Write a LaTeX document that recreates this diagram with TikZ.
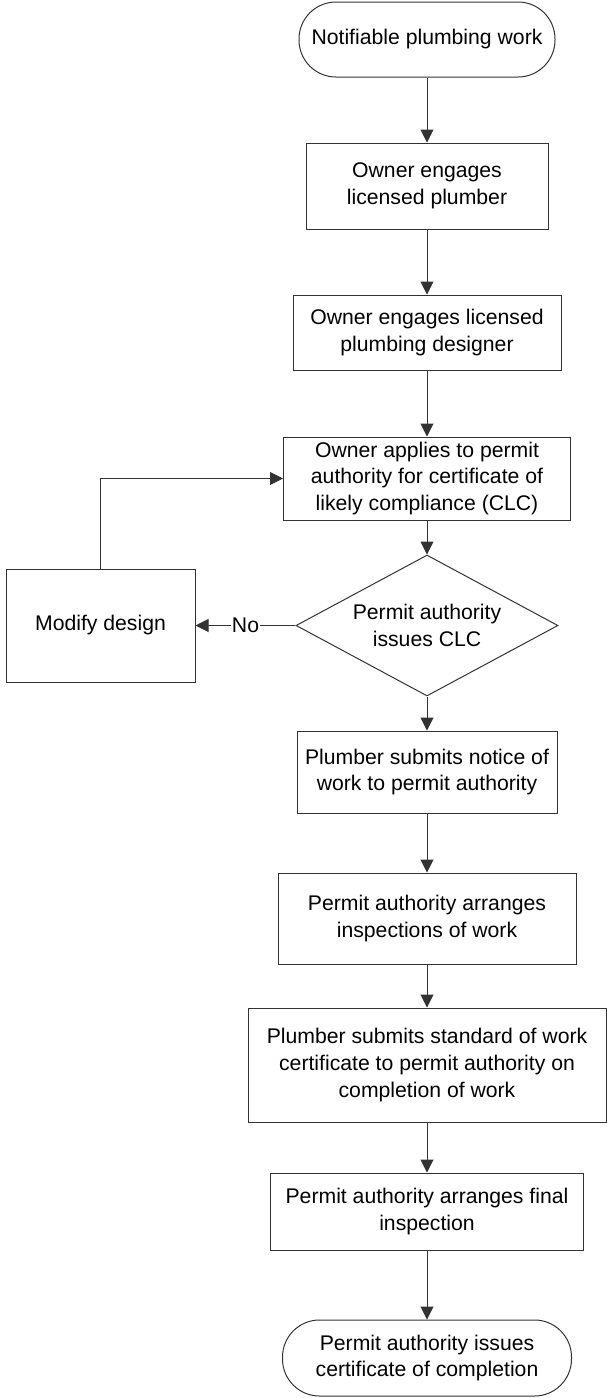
\documentclass[tikz,border=0pt]{standalone}
\usepackage{fontspec}
\setmainfont{Liberation Sans}
\usetikzlibrary{arrows.meta,shapes.geometric}
\begin{document}
\begin{tikzpicture}[x=1pt,y=-1pt,
  every node/.style={font=\fontsize{21.2}{26.7}\selectfont, align=center, text=black},
  procbox/.style={draw=black!80, line width=1pt, rectangle, inner sep=0pt},
  termbox/.style={draw=black!80, line width=1pt, rectangle, rounded corners=37pt, inner sep=0pt},
  decbox/.style={draw=black!80, line width=1pt, diamond, aspect=1.86, inner sep=0pt},
  flow/.style={draw=black!80, line width=1pt, -{Triangle[length=13pt,width=13pt]}}
]
\useasboundingbox (0,0) rectangle (607,1398);
\node[termbox, minimum width=256pt, minimum height=75pt] (t1) at (427,39.5) {Notifiable plumbing work};
\node[procbox, minimum width=242pt, minimum height=86pt] (b2) at (427,186) {Owner engages\\licensed plumber};
\node[procbox, minimum width=268pt, minimum height=75pt] (b3) at (427,332.5) {Owner engages licensed\\plumbing designer};
\node[procbox, minimum width=287pt, minimum height=83pt] (b4) at (427,478.5) {Owner applies to permit\\authority for certificate of\\likely compliance (CLC)};
\node[decbox, minimum width=262pt, minimum height=141pt] (d) at (427,625.5) {Permit authority\\issues CLC};
\node[procbox, minimum width=189pt, minimum height=113pt] (m) at (100.5,625.5) {Modify design};
\node[procbox, minimum width=260pt, minimum height=82pt] (b7) at (427,772) {Plumber submits notice of\\work to permit authority};
\node[procbox, minimum width=298pt, minimum height=91pt] (b8) at (427,918.5) {Permit authority arranges\\inspections of work};
\node[procbox, minimum width=358pt, minimum height=114pt] (b9) at (427,1065) {Plumber submits standard of work\\certificate to permit authority on\\completion of work};
\node[procbox, minimum width=313pt, minimum height=77pt] (b10) at (427,1211.5) {Permit authority arranges final\\inspection};
\node[termbox, minimum width=289pt, minimum height=76pt] (t11) at (427,1358) {Permit authority issues\\certificate of completion};

\draw[flow] (t1) -- (b2);
\draw[flow] (b2) -- (b3);
\draw[flow] (b3) -- (b4);
\draw[flow] (b4) -- (d);
\draw[flow] (d) -- node[fill=white, inner sep=1pt] (no) {No} (m);
\draw[flow] (m.north) |- (b4.west);
\draw[flow] (d) -- (b7);
\draw[flow] (b7) -- (b8);
\draw[flow] (b8) -- (b9);
\draw[flow] (b9) -- (b10);
\draw[flow] (b10) -- (t11);
\end{tikzpicture}
\end{document}
